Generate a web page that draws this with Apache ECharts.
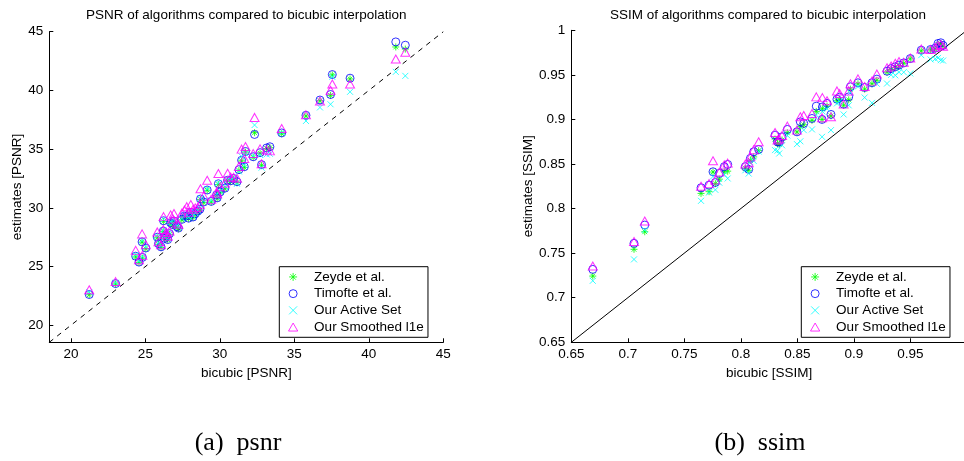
<!DOCTYPE html>
<html>
<head>
<meta charset="utf-8">
<script src="https://cdn.jsdelivr.net/npm/echarts@6/dist/echarts.min.js"></script>
<style>
  html, body { margin: 0; padding: 0; background: #fff; overflow: hidden; }
  #chart { width: 964px; height: 461px; }
</style>
</head>
<body>
<div id="chart"></div>
<script>
// Method names (legend order = drawing order)
const methodNames = ['Zeyde et al.', 'Timofte et al.', 'Our Active Set', 'Our Smoothed l1e'];

// PSNR per test image: bicubic baseline and the four estimates
const psnrBicubic = [21.23, 23.00, 24.35, 24.57, 24.78, 24.80, 25.03, 25.80, 25.88, 26.05, 26.20, 26.22, 26.30, 26.42, 26.50, 26.62, 26.70, 26.82, 26.92, 27.12, 27.22, 27.45, 27.62, 27.78, 27.90, 28.05, 28.20, 28.35, 28.52, 28.66, 28.70, 28.92, 29.15, 29.42, 29.78, 29.82, 29.90, 30.02, 30.34, 30.52, 30.72, 30.92, 31.15, 31.28, 31.46, 31.64, 31.72, 32.24, 32.33, 32.70, 32.80, 33.14, 33.36, 34.15, 35.78, 36.72, 37.43, 37.55, 38.74, 41.81, 42.45];
const psnrZeyde    = [22.60, 23.52, 25.82, 25.35, 27.08, 25.72, 26.52, 27.45, 26.90, 26.62, 27.98, 28.85, 27.35, 27.55, 27.28, 27.75, 28.66, 28.52, 28.82, 28.35, 28.22, 28.98, 29.25, 29.28, 29.08, 29.55, 29.18, 29.45, 29.68, 29.82, 30.70, 30.45, 31.50, 30.50, 31.05, 30.80, 31.98, 31.30, 31.62, 32.30, 32.25, 32.45, 32.15, 33.18, 34.00, 33.45, 34.75, 34.30, 36.40, 34.65, 33.62, 35.05, 35.12, 36.32, 37.82, 39.12, 39.58, 41.32, 40.98, 43.70, 43.52];
const psnrTimofte  = [22.62, 23.55, 25.88, 25.38, 27.10, 25.78, 26.58, 27.50, 26.95, 26.68, 28.02, 28.90, 27.40, 27.62, 27.30, 27.80, 28.72, 28.58, 28.88, 28.40, 28.28, 29.02, 29.30, 29.32, 29.12, 29.60, 29.22, 29.50, 29.72, 29.88, 30.75, 30.50, 31.52, 30.55, 31.10, 30.85, 32.05, 31.35, 31.68, 32.35, 32.30, 32.50, 32.22, 33.25, 34.05, 33.50, 34.80, 34.35, 36.25, 34.70, 33.68, 35.10, 35.20, 36.38, 37.88, 39.18, 39.65, 41.35, 41.04, 44.13, 43.85];
const psnrActive   = [22.82, 23.62, 26.00, 25.45, 27.22, 25.85, 26.68, 27.60, 27.02, 26.72, 28.08, 29.00, 27.50, 27.68, 27.40, 27.88, 28.80, 28.68, 29.00, 28.48, 28.38, 29.10, 29.38, 29.40, 29.20, 29.68, 29.30, 29.58, 29.78, 29.95, 30.82, 30.60, 31.62, 30.62, 31.18, 30.92, 32.12, 31.42, 31.78, 32.42, 32.40, 32.55, 32.05, 33.10, 34.38, 33.62, 34.62, 34.42, 37.05, 34.50, 33.42, 34.55, 34.60, 36.42, 37.40, 38.55, 38.82, 41.15, 39.88, 41.58, 41.24];
const psnrSmooth   = [23.02, 23.72, 26.38, 25.58, 27.78, 25.95, 26.85, 27.95, 27.12, 26.85, 28.15, 29.25, 27.72, 27.90, 27.58, 28.02, 29.40, 29.05, 29.52, 28.72, 28.60, 29.55, 29.82, 30.10, 29.62, 30.28, 29.88, 30.00, 30.05, 30.30, 31.62, 31.00, 32.35, 30.72, 31.35, 31.20, 32.92, 31.80, 32.12, 32.95, 32.62, 32.60, 32.52, 33.52, 35.00, 34.20, 35.22, 34.62, 37.70, 35.02, 33.75, 34.92, 34.85, 36.75, 37.92, 39.10, 40.02, 40.55, 40.55, 42.68, 43.25];

// SSIM per test image: bicubic baseline and the four estimates
const ssimBicubic = [0.6690, 0.7055, 0.7150, 0.7648, 0.7719, 0.7754, 0.7775, 0.7810, 0.7854, 0.7884, 0.8040, 0.8070, 0.8085, 0.8114, 0.8158, 0.8303, 0.8325, 0.8340, 0.8365, 0.8412, 0.8497, 0.8527, 0.8557, 0.8630, 0.8668, 0.8719, 0.8722, 0.8763, 0.8798, 0.8851, 0.8875, 0.8910, 0.8955, 0.8970, 0.9037, 0.9096, 0.9161, 0.9204, 0.9294, 0.9330, 0.9367, 0.9400, 0.9442, 0.9500, 0.9597, 0.9680, 0.9720, 0.9745, 0.9770, 0.9790];
const ssimZeyde    = [0.7243, 0.7543, 0.7740, 0.8170, 0.8190, 0.8410, 0.8280, 0.8330, 0.8413, 0.8420, 0.8450, 0.8430, 0.8540, 0.8580, 0.8650, 0.8780, 0.8730, 0.8720, 0.8770, 0.8850, 0.8860, 0.8920, 0.8940, 0.8990, 0.9090, 0.9000, 0.9120, 0.9150, 0.9040, 0.9210, 0.9220, 0.9160, 0.9220, 0.9340, 0.9400, 0.9340, 0.9400, 0.9440, 0.9530, 0.9560, 0.9580, 0.9600, 0.9630, 0.9680, 0.9770, 0.9780, 0.9790, 0.9840, 0.9850, 0.9820];
const ssimTimofte  = [0.7318, 0.7610, 0.7815, 0.8233, 0.8263, 0.8413, 0.8293, 0.8395, 0.8470, 0.8495, 0.8470, 0.8440, 0.8563, 0.8637, 0.8663, 0.8824, 0.8749, 0.8745, 0.8805, 0.8888, 0.8861, 0.8973, 0.8955, 0.9011, 0.9149, 0.9000, 0.9140, 0.9180, 0.9056, 0.9227, 0.9250, 0.9172, 0.9253, 0.9366, 0.9411, 0.9359, 0.9411, 0.9452, 0.9541, 0.9570, 0.9590, 0.9610, 0.9634, 0.9683, 0.9777, 0.9785, 0.9800, 0.9852, 0.9860, 0.9830];
const ssimActive   = [0.7190, 0.7430, 0.7760, 0.8087, 0.8180, 0.8360, 0.8210, 0.8290, 0.8380, 0.8338, 0.8430, 0.8393, 0.8520, 0.8535, 0.8640, 0.8656, 0.8650, 0.8618, 0.8710, 0.8820, 0.8723, 0.8755, 0.8880, 0.8888, 0.9050, 0.8805, 0.9090, 0.9120, 0.8880, 0.9180, 0.9200, 0.9056, 0.9158, 0.9300, 0.9370, 0.9246, 0.9186, 0.9400, 0.9403, 0.9500, 0.9495, 0.9530, 0.9530, 0.9516, 0.9721, 0.9673, 0.9680, 0.9690, 0.9665, 0.9660];
const ssimSmooth   = [0.7355, 0.7630, 0.7860, 0.8250, 0.8280, 0.8536, 0.8320, 0.8410, 0.8490, 0.8510, 0.8500, 0.8515, 0.8580, 0.8660, 0.8749, 0.8854, 0.8770, 0.8780, 0.8820, 0.8925, 0.8880, 0.9030, 0.9045, 0.9067, 0.9253, 0.9020, 0.9245, 0.9210, 0.9030, 0.9320, 0.9290, 0.9172, 0.9320, 0.9400, 0.9455, 0.9370, 0.9430, 0.9510, 0.9580, 0.9600, 0.9630, 0.9650, 0.9640, 0.9690, 0.9790, 0.9785, 0.9810, 0.9830, 0.9840, 0.9820];

// Axis ranges and tick labels
const psnrRange = [18.55, 45];
const psnrTicks = [20, 25, 30, 35, 40, 45];
const ssimRange = [0.65, 1];
const ssimTicks = [0.65, 0.7, 0.75, 0.8, 0.85, 0.9, 0.95, 1];

const SANS = '"Liberation Sans", Arial, Helvetica, sans-serif';
const SERIF = '"Liberation Serif", "Times New Roman", serif';
const FS = 13.5;

// MATLAB-like markers: '*' green, 'o' blue, 'x' cyan, '^' magenta
const markers = [
  { symbol: 'path://M5 0L5 10M0 5L10 5M1.6 1.6L8.4 8.4M8.4 1.6L1.6 8.4', size: 7, color: '#00ff00' },
  { symbol: 'circle', size: 8, color: '#0000ff' },
  { symbol: 'path://M0 0L10 10M10 0L0 10', size: 6, color: '#00ffff' },
  { symbol: 'path://M5 0L10 8.66L0 8.66Z', size: [9, 8], color: '#ff00ff' }
];

function zip(xs, ys) { return xs.map((x, i) => [x, ys[i]]); }

function scatterSeries(gridIdx, xs, ysList) {
  return ysList.map((ys, k) => ({
    type: 'scatter',
    name: methodNames[k],
    xAxisIndex: gridIdx,
    yAxisIndex: gridIdx,
    symbol: markers[k].symbol,
    symbolSize: markers[k].size,
    itemStyle: { color: 'rgba(0,0,0,0)', borderColor: markers[k].color, borderWidth: 1 },
    emphasis: { disabled: true },
    data: zip(xs, ys),
    z: 2 + k
  }));
}

function axis(gridIdx, range, ticks, name, gap, isX) {
  return {
    type: 'value',
    gridIndex: gridIdx,
    min: range[0],
    max: range[1],
    name: name,
    nameLocation: 'middle',
    nameGap: gap,
    nameTextStyle: { fontSize: FS, color: '#000', fontFamily: SANS },
    axisLine: { onZero: false, lineStyle: { color: '#000', width: 1 } },
    axisTick: { inside: true, length: 4, customValues: ticks, lineStyle: { color: '#000', width: 1 } },
    axisLabel: { customValues: ticks, margin: isX ? 5 : 6, fontSize: FS, color: '#000', fontFamily: SANS },
    splitLine: { show: false }
  };
}

function legendAt(left) {
  return {
    data: methodNames,
    orient: 'vertical',
    left: left,
    top: 266.7,
    itemWidth: 32,
    itemHeight: 8,
    itemGap: 2.7,
    padding: [3.25, 4.3, 3.25, 8.7],
    borderColor: '#000',
    borderWidth: 1,
    backgroundColor: '#fff',
    selectedMode: false,
    itemStyle: { borderWidth: 1 },
    textStyle: { fontSize: FS, color: '#000', fontFamily: SANS, lineHeight: 14 }
  };
}

const chart = echarts.init(document.getElementById('chart'), null, { renderer: 'canvas' });

chart.setOption({
  animation: false,
  backgroundColor: '#fff',
  grid: [
    { left: 49.3, top: 31.7, width: 394, height: 310.6, containLabel: false, outerBoundsMode: 'none' },
    { left: 571.3, top: 30.3, width: 395.5, height: 312, containLabel: false, outerBoundsMode: 'none' }
  ],
  xAxis: [
    axis(0, psnrRange, psnrTicks, 'bicubic [PSNR]', 20, true),
    axis(1, ssimRange, ssimTicks, 'bicubic [SSIM]', 20, true)
  ],
  yAxis: [
    axis(0, psnrRange, psnrTicks, 'estimates [PSNR]', 24, false),
    axis(1, ssimRange, ssimTicks, 'estimates [SSIM]', 36, false)
  ],
  legend: [legendAt(279.3), legendAt(801.3)],
  series: [
    ...scatterSeries(0, psnrBicubic, [psnrZeyde, psnrTimofte, psnrActive, psnrSmooth]),
    {
      type: 'line', name: 'psnr identity', xAxisIndex: 0, yAxisIndex: 0,
      data: [[psnrRange[0], psnrRange[0]], [psnrRange[1], psnrRange[1]]],
      symbol: 'none', silent: true, z: 1,
      lineStyle: { color: '#000', width: 1, type: [5, 5] }
    },
    ...scatterSeries(1, ssimBicubic, [ssimZeyde, ssimTimofte, ssimActive, ssimSmooth]),
    {
      type: 'line', name: 'ssim identity', xAxisIndex: 1, yAxisIndex: 1,
      data: [[ssimRange[0], ssimRange[0]], [ssimRange[1], ssimRange[1]]],
      symbol: 'none', silent: true, z: 1,
      lineStyle: { color: '#000', width: 1 }
    }
  ],
  graphic: [
    { type: 'text', x: 246.3, y: 15, style: { text: 'PSNR of algorithms compared to bicubic interpolation', fontSize: FS, fontFamily: SANS, fill: '#000', align: 'center', verticalAlign: 'middle' } },
    { type: 'text', x: 768, y: 15, style: { text: 'SSIM of algorithms compared to bicubic interpolation', fontSize: FS, fontFamily: SANS, fill: '#000', align: 'center', verticalAlign: 'middle' } },
    { type: 'text', x: 238, y: 443, style: { text: '(a)\u2002psnr', fontSize: 26, fontFamily: SERIF, fill: '#000', align: 'center', verticalAlign: 'middle' } },
    { type: 'text', x: 760, y: 443, style: { text: '(b)\u2002ssim', fontSize: 26, fontFamily: SERIF, fill: '#000', align: 'center', verticalAlign: 'middle' } }
  ]
});
</script>
</body>
</html>
